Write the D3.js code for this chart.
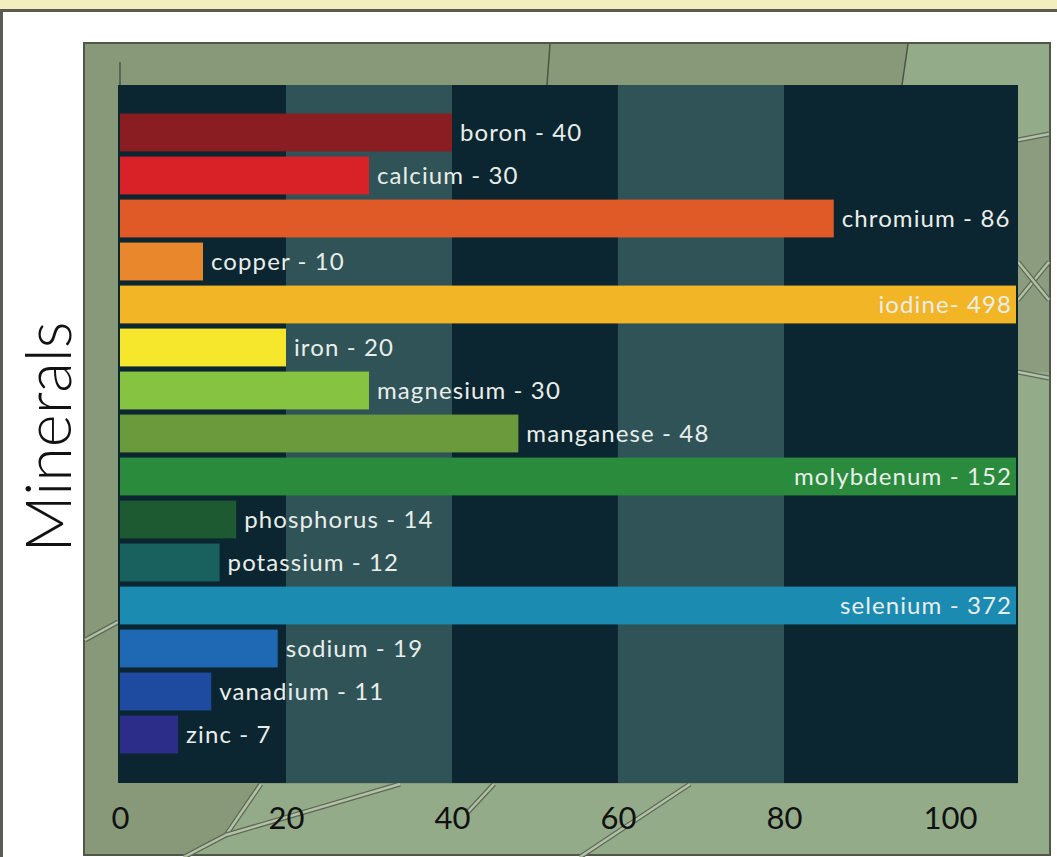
<!DOCTYPE html>
<html>
<head>
<meta charset="utf-8">
<script src="https://cdn.jsdelivr.net/npm/d3@7"></script>
<style>
  body { margin: 0; background: #fff; }
  svg { display: block; }
</style>
</head>
<body>
<div id="chart"></div>
<script>
const minerals = ["boron", "calcium", "chromium", "copper", "iodine", "iron", "magnesium",
  "manganese", "molybdenum", "phosphorus", "potassium", "selenium", "sodium", "vanadium", "zinc"];
const amounts = [40, 30, 86, 10, 498, 20, 30, 48, 152, 14, 12, 372, 19, 11, 7];
const barColors = ["#8a1d22", "#d92228", "#df5a27", "#e8872b", "#f2b526", "#f6e62c", "#86c341",
  "#6b9a3d", "#2a8b3d", "#1d5a31", "#19615f", "#1b8bb1", "#1f69b4", "#1e4aa0", "#2b2d88"];
const xTicks = [0, 20, 40, 60, 80, 100];
const xMax = 108.2;

const W = 1057, H = 857;
const svg = d3.select("#chart").append("svg")
  .attr("width", W)
  .attr("height", H);

// frame: cream strip on top, thin borders
svg.append("rect").attr("x", 0).attr("y", 0).attr("width", W).attr("height", 10).attr("fill", "#f3eebd");
svg.append("rect").attr("x", 0).attr("y", 9).attr("width", W).attr("height", 3).attr("fill", "#5b5b55");
svg.append("rect").attr("x", 0).attr("y", 10).attr("width", 3).attr("height", H).attr("fill", "#5b5b55");

// green panel
const panel = { x: 84, y: 43, w: 966, h: 812 };
svg.append("rect")
  .attr("x", panel.x).attr("y", panel.y)
  .attr("width", panel.w).attr("height", panel.h)
  .attr("fill", "#889979");

// lighter parcels of the "map"
svg.append("path")
  .attr("d", "M908,44 L1049,44 L1049,854 L184,854 L226,835 L261,784 L1018,784 L1018,85 L902,85 Z")
  .attr("fill", "#94ab89");
svg.append("path")
  .attr("d", "M1018,140 L1049,134 L1049,372 L1018,372 Z")
  .attr("fill", "#8b9d7e");

svg.append("rect")
  .attr("x", panel.x).attr("y", panel.y)
  .attr("width", panel.w).attr("height", panel.h)
  .attr("fill", "none")
  .attr("stroke", "#4f564a")
  .attr("stroke-width", 2);

// thin single lines at the top
[["M550,44 L547,85"], ["M908,44 L902,85"]].forEach(d => {
  svg.append("path").attr("d", d[0]).attr("fill", "none")
    .attr("stroke", "#4a5545").attr("stroke-width", 1.5);
});

// roads (decoration)
const roads = [
  "M261,784 L226,835 L184,857",
  "M400,784 L226,835",
  "M494,784 L467,813",
  "M690,784 L580,857",
  "M1018,140 L1049,134",
  "M1018,300 L1049,262",
  "M1018,262 L1049,300",
  "M1018,372 L1049,378",
  "M85,640 L118,622"
];
roads.forEach(d => {
  svg.append("path").attr("d", d).attr("fill", "none")
    .attr("stroke", "#5d6a56").attr("stroke-width", 5).attr("stroke-linejoin", "round");
  svg.append("path").attr("d", d).attr("fill", "none")
    .attr("stroke", "#b3c2a7").attr("stroke-width", 2.5).attr("stroke-linejoin", "round");
});

const x = d3.scaleLinear()
  .domain([0, xMax])
  .range([120, 1018]);

const y = d3.scaleBand()
  .domain(minerals)
  .range([111, 756])
  .paddingInner(0.12)
  .paddingOuter(0.06);

const plotTop = 85, plotBottom = 783;

// plot background with alternating bands
const bandEdges = xTicks.slice(0, -1).map((t, i) => [t, i === xTicks.length - 2 ? xMax : xTicks[i + 1]]);
svg.selectAll("rect.band")
  .data(bandEdges)
  .enter()
  .append("rect")
  .attr("class", "band")
  .attr("x", (d, i) => i === 0 ? x(d[0]) - 2 : x(d[0]))
  .attr("y", plotTop)
  .attr("width", (d, i) => x(d[1]) - x(d[0]) + (i === 0 ? 2 : 0))
  .attr("height", plotBottom - plotTop)
  .attr("fill", (d, i) => i % 2 === 0 ? "#0b2630" : "#2f5357");

// axis line sticking out above the plot
svg.append("line")
  .attr("x1", x(0)).attr("x2", x(0))
  .attr("y1", 62).attr("y2", plotTop)
  .attr("stroke", "#3d4538").attr("stroke-width", 1.2);

// bars
const rows = minerals.map((m, i) => ({ name: m, value: amounts[i], color: barColors[i] }));
const clipped = d => d.value > xMax;

svg.selectAll("rect.bar")
  .data(rows)
  .enter()
  .append("rect")
  .attr("class", "bar")
  .attr("x", x(0))
  .attr("y", d => y(d.name))
  .attr("width", d => clipped(d) ? x(xMax) - x(0) - 2 : x(d.value) - x(0))
  .attr("height", y.bandwidth())
  .attr("fill", d => d.color);

// labels
svg.selectAll("text.value")
  .data(rows)
  .enter()
  .append("text")
  .attr("class", "value")
  .attr("x", d => clipped(d) ? x(xMax) - 6 : x(d.value) + 8)
  .attr("y", d => y(d.name) + y.bandwidth() / 2 + 8)
  .attr("text-anchor", d => clipped(d) ? "end" : "start")
  .text(d => d.name + (d.name === "iodine" ? "- " : " - ") + d.value)
  .style("fill", "#e9eeea")
  .style("font-family", "Lato, sans-serif")
  .style("font-size", "24px")
  .style("letter-spacing", "1.1px");

// x axis labels
const xAxis = svg.append("g")
  .attr("transform", `translate(0,${plotBottom})`)
  .call(d3.axisBottom(x).tickValues(xTicks).tickSize(0).tickPadding(24));
xAxis.select(".domain").remove();
xAxis.selectAll("text")
  .style("fill", "#111")
  .style("font-family", "Lato, sans-serif")
  .style("font-weight", 400)
  .style("font-size", "31px");

// y title
svg.append("text")
  .attr("transform", "translate(71,437) rotate(-90)")
  .attr("text-anchor", "middle")
  .text("Minerals")
  .style("fill", "#111")
  .style("font-family", "Lato, sans-serif")
  .style("font-weight", 300)
  .style("font-size", "63px");
</script>
</body>
</html>
